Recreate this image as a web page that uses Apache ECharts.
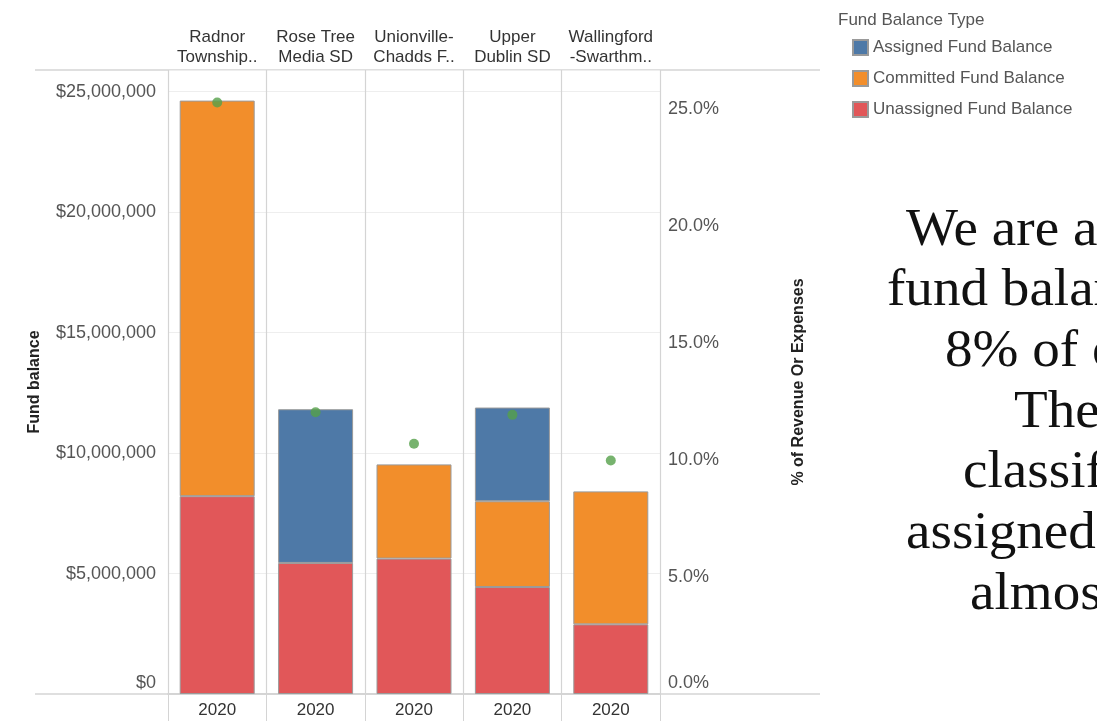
<!DOCTYPE html>
<html>
<head>
<meta charset="utf-8">
<script src="https://cdn.jsdelivr.net/npm/echarts@6/dist/echarts.min.js"></script>
<style>
html,body{margin:0;padding:0;background:#fff;}
#chart{width:1097px;height:721px;}
</style>
</head>
<body>
<div id="chart"></div>
<script>
// ---- data ----
var categories = ['Radnor\nTownship..', 'Rose Tree\nMedia SD', 'Unionville-\nChadds F..', 'Upper\nDublin SD', 'Wallingford\n-Swarthm..'];
var years = ['2020', '2020', '2020', '2020', '2020'];
var unassigned = [8210000, 5440000, 5620000, 4440000, 2890000];
var committed = [16420000, null, 3910000, 3560000, 5520000];
var assigned = [null, 6380000, null, 3890000, null];
var pctRevenue = [25.3, 12.05, 10.7, 11.94, 9.99];
var leftTicks = [0, 5000000, 10000000, 15000000, 20000000, 25000000];
var rightTicks = [0, 5, 10, 15, 20, 25];
var sideText = ['We are a', 'fund balance', '8% of o', 'There', 'classified', 'assigned', 'almost'];

var FONT = "'Liberation Sans', Arial, sans-serif";
var LINE = '#d4d4d4';

function money(v) {
  return '$' + Math.round(v).toString().replace(/\B(?=(\d{3})+(?!\d))/g, ',');
}

var chart = echarts.init(document.getElementById('chart'));

var sideLefts = [906, 887, 945, 1014, 963, 906, 970];
var graphics = [
  { type: 'line', shape: { x1: 35, y1: 70, x2: 820, y2: 70 }, style: { stroke: LINE, lineWidth: 1.5 }, z: 0 },
  { type: 'line', shape: { x1: 35, y1: 694, x2: 820, y2: 694 }, style: { stroke: LINE, lineWidth: 1.5 }, z: 0 },
  { type: 'text', left: 838, top: 12, style: { text: 'Fund Balance Type', font: '17px ' + FONT, fill: '#555' } }
];
sideText.forEach(function (t, i) {
  graphics.push({
    type: 'text', x: sideLefts[i], y: 231 + i * 60.67, scaleX: 1.06,
    style: { text: t, font: '52px "Liberation Serif", "Times New Roman", serif', fill: '#111', verticalAlign: 'middle', align: 'left' }
  });
});

var barBase = {
  type: 'bar', stack: 'fund', barWidth: 75,
  itemStyle: { borderColor: '#9a9a9a', borderWidth: 1 },
  emphasis: { disabled: true }
};

var option = {
  animation: false,
  backgroundColor: '#fff',
  textStyle: { fontFamily: FONT },
  grid: { left: 168, right: 437, top: 70, bottom: 27, containLabel: false },
  legend: {
    orient: 'vertical', left: 847, top: 34, icon: 'rect',
    itemWidth: 15, itemHeight: 15, itemGap: 14,
    textStyle: { fontSize: 17, color: '#555', fontFamily: FONT },
    data: ['Assigned Fund Balance', 'Committed Fund Balance', 'Unassigned Fund Balance'],
    selectedMode: false
  },
  xAxis: [
    {
      type: 'category', position: 'bottom', data: categories,
      axisLine: { show: true, lineStyle: { color: LINE, width: 1.5 } },
      axisTick: { show: true, alignWithLabel: false, interval: 0, length: 27, lineStyle: { color: LINE } },
      axisLabel: { interval: 0, fontSize: 17, color: '#333', margin: 8, formatter: function (v, i) { return years[i]; } },
      splitLine: { show: true, interval: 0, lineStyle: { color: LINE, width: 1.2 } }
    },
    {
      type: 'category', position: 'top', data: categories,
      axisLine: { show: true, lineStyle: { color: LINE, width: 1.5 } },
      axisTick: { show: true, alignWithLabel: false, interval: 0, length: 63, lineStyle: { color: LINE } },
      axisLabel: { interval: 0, fontSize: 17, color: '#333', margin: 3, lineHeight: 20, align: 'center' }
    }
  ],
  yAxis: [
    {
      type: 'value', min: 0, max: 25900000, interval: 5000000, position: 'left',
      name: 'Fund balance', nameLocation: 'middle', nameRotate: 90, nameGap: 125,
      nameTextStyle: { fontSize: 16, fontWeight: 'bold', color: '#222' },
      axisLine: { show: false }, axisTick: { show: false },
      axisLabel: {
        fontSize: 18, color: '#555', margin: 12, showMaxLabel: false,
        formatter: function (v) {
          if (leftTicks.indexOf(v) < 0) return '';
          return v === 0 ? '{z|' + money(v) + '}' : money(v);
        },
        rich: { z: { fontSize: 18, color: '#555', padding: [0, 0, 22, 0] } }
      },
      splitLine: { show: true, lineStyle: { color: '#eeeeee', width: 1.2 } }
    },
    {
      type: 'value', min: 0, max: 26.69, interval: 5, position: 'right',
      name: '% of Revenue Or Expenses', nameLocation: 'middle', nameRotate: 90, nameGap: 131,
      nameTextStyle: { fontSize: 16, fontWeight: 'bold', color: '#222' },
      axisLine: { show: false }, axisTick: { show: false },
      axisLabel: {
        fontSize: 18, color: '#555', margin: 8, showMaxLabel: false,
        formatter: function (v) {
          if (rightTicks.indexOf(v) < 0) return '';
          return v === 0 ? '{z|' + v.toFixed(1) + '%}' : v.toFixed(1) + '%';
        },
        rich: { z: { fontSize: 18, color: '#555', padding: [0, 0, 22, 0] } }
      },
      splitLine: { show: false }
    }
  ],
  series: [
    Object.assign({}, barBase, { name: 'Unassigned Fund Balance', data: unassigned, itemStyle: Object.assign({}, barBase.itemStyle, { color: '#e15759' }) }),
    Object.assign({}, barBase, { name: 'Committed Fund Balance', data: committed, itemStyle: Object.assign({}, barBase.itemStyle, { color: '#f28e2b' }) }),
    Object.assign({}, barBase, { name: 'Assigned Fund Balance', data: assigned, itemStyle: Object.assign({}, barBase.itemStyle, { color: '#4e79a7' }) }),
    {
      name: '% of Revenue', type: 'scatter', yAxisIndex: 1, data: pctRevenue,
      symbolSize: 10, itemStyle: { color: '#55a04a' }, z: 5, emphasis: { disabled: true }
    }
  ],
  graphic: graphics
};

chart.setOption(option);
</script>
</body>
</html>
